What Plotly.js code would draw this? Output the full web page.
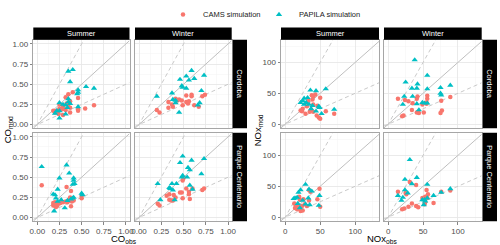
<!DOCTYPE html>
<html><head><meta charset="utf-8">
<script src="https://cdn.plot.ly/plotly-3.0.1.min.js"></script>
<style>html,body{margin:0;padding:0;background:#fff;}#chart{width:500px;height:245px;}</style>
</head><body><div id="chart"></div>
<script>
// ---------- DATA ----------
const seriesNames = ["CAMS simulation", "PAPILA simulation"];
const seasons = ["Summer", "Winter"];
const sites = ["Cordoba", "Parque Centenario"];

// CO, Summer, Cordoba
const coSumCorCamsX = [0.35,0.40,0.32,0.46,0.25,0.37,0.29,0.35,0.37,0.32,0.25,0.22,0.18,0.24,0.29,0.46,0.46,0.54,0.64,0.37,0.30,0.33,0.28,0.20];
const coSumCorCamsY = [0.375,0.40,0.34,0.33,0.25,0.29,0.23,0.25,0.21,0.18,0.20,0.17,0.17,0.13,0.12,0.19,0.17,0.20,0.24,0.15,0.20,0.26,0.19,0.15];
const coSumCorPapX = [0.35,0.40,0.37,0.55,0.64,0.46,0.46,0.45,0.35,0.35,0.37,0.25,0.29,0.32,0.34,0.46,0.22,0.25,0.32,0.25,0.20];
const coSumCorPapY = [0.66,0.68,0.53,0.47,0.45,0.43,0.40,0.38,0.32,0.28,0.26,0.27,0.25,0.24,0.21,0.22,0.17,0.17,0.13,0.08,0.14];
// CO, Winter, Cordoba
const coWinCorCamsX = [0.20,0.23,0.33,0.33,0.38,0.41,0.43,0.45,0.48,0.49,0.53,0.53,0.56,0.59,0.59,0.62,0.67,0.71,0.74,0.55,0.37];
const coWinCorCamsY = [0.18,0.15,0.28,0.21,0.22,0.32,0.30,0.31,0.30,0.24,0.36,0.28,0.29,0.37,0.35,0.24,0.22,0.35,0.37,0.26,0.25];
const coWinCorPapX = [0.20,0.46,0.59,0.53,0.56,0.62,0.73,0.48,0.49,0.53,0.70,0.37,0.38,0.41,0.41,0.68,0.66,0.45];
const coWinCorPapY = [0.35,0.56,0.67,0.60,0.55,0.57,0.61,0.48,0.46,0.45,0.42,0.39,0.31,0.30,0.27,0.27,0.24,0.15];
// CO, Summer, Parque Centenario
const coSumPcCamsX = [0.05,0.33,0.38,0.37,0.38,0.18,0.19,0.20,0.21,0.22,0.18,0.24,0.29,0.26,0.32,0.34,0.36,0.39,0.40,0.41,0.50,0.50,0.37,0.20,0.21];
const coSumPcCamsY = [0.40,0.38,0.33,0.22,0.14,0.15,0.17,0.19,0.16,0.14,0.18,0.17,0.19,0.18,0.20,0.19,0.21,0.20,0.23,0.21,0.27,0.24,0.25,0.15,0.13];
const coSumPcPapX = [0.05,0.33,0.36,0.25,0.41,0.41,0.40,0.42,0.23,0.18,0.20,0.21,0.23,0.19,0.31,0.34,0.40,0.41,0.50,0.51,0.27,0.38];
const coSumPcPapY = [0.63,0.65,0.55,0.49,0.49,0.46,0.41,0.42,0.35,0.29,0.28,0.24,0.20,0.08,0.12,0.21,0.24,0.25,0.30,0.28,0.22,0.23];
// CO, Winter, Parque Centenario
const coWinPcCamsX = [0.21,0.23,0.34,0.36,0.38,0.34,0.39,0.46,0.48,0.49,0.49,0.50,0.53,0.56,0.56,0.57,0.60,0.71,0.73,0.41,0.31];
const coWinPcCamsY = [0.17,0.15,0.22,0.21,0.21,0.29,0.28,0.31,0.31,0.24,0.46,0.49,0.36,0.32,0.29,0.23,0.36,0.34,0.36,0.25,0.27];
const coWinPcPapX = [0.21,0.24,0.49,0.46,0.59,0.73,0.55,0.57,0.70,0.49,0.54,0.37,0.42,0.34,0.35,0.38,0.57,0.60,0.40,0.48];
const coWinPcPapY = [0.42,0.22,0.76,0.68,0.71,0.73,0.62,0.59,0.54,0.52,0.50,0.42,0.42,0.37,0.36,0.34,0.40,0.35,0.22,0.50];

// NOx, Summer, Cordoba
const noxSumCorCamsX = [38,40,43,50,39,33,40,31,25,24,29,40,45,48,50,58,70,37,22,35,46];
const noxSumCorCamsY = [47,45,48,43,40,38,32,29,25,21,17,20,14,11,9,21,17,24,22,20,30];
const noxSumCorPapX = [58,36,44,27,32,22,30,34,39,48,49,44,70,52,27,37,25];
const noxSumCorPapY = [57,55,54,42,43,35,35,32,30,29,27,21,24,17,32,25,38];
// NOx, Winter, Cordoba
const noxWinCorCamsX = [14,24,42,41,56,56,55,55,49,35,76,89,34,41,44,51,20,22,77,75,29];
const noxWinCorCamsY = [41,39,45,41,46,41,35,33,32,34,38,44,23,19,18,19,13,14,22,18,37];
const noxWinCorPapX = [38,56,25,42,34,41,56,75,89,75,76,35,23,49,52,56,41,21,44];
const noxWinCorPapY = [104,79,68,65,58,58,57,59,63,50,47,45,45,35,34,34,33,32,23];
// NOx, Summer, Parque Centenario
const noxSumPcCamsX = [34,36,49,20,21,26,28,14,17,22,25,31,34,46,50,13,19,24,15];
const noxSumPcCamsY = [44,41,46,33,28,29,21,15,13,10,11,18,27,29,17,22,17,18,20];
const noxSumPcPapX = [29,22,19,34,38,49,14,17,33,29,48,21,25,18,35,12];
const noxSumPcPapY = [53,44,40,45,42,35,31,32,31,21,19,15,27,22,20,30];
// NOx, Winter, Parque Centenario
const noxWinPcCamsX = [31,40,14,25,26,55,57,56,49,53,76,89,65,34,40,43,20,23,29,52,53];
const noxWinPcCamsY = [57,52,41,39,37,44,37,31,31,33,41,43,23,22,18,16,13,14,17,21,24];
const noxWinPcPapX = [31,24,41,34,56,24,28,21,14,19,65,76,89,49,52,56,53,51];
const noxWinPcPapY = [93,61,64,54,53,44,39,32,35,27,35,40,46,28,28,31,26,20];

const refSlopes = [1, 2, 0.5];
const coTicks = [0, 0.25, 0.5, 0.75, 1];
const coTickText = ["0.00", "0.25", "0.50", "0.75", "1.00"];
const noxTicks = [0, 50, 100];
const noxTickText = ["0", "50", "100"];

// ---------- LAYOUT HELPERS ----------
const W = 500, H = 245;
const px = v => v / W;
const py = v => (H - v) / H;
const coRange = [-0.045, 1.04];
const coYRange = [-0.045, 1.05];
const noxRange = [-6, 134];
const noxYRange = [-6.5, 136.5];

const colX = { coS: [33.3, 129.5], coW: [135, 231.7], noxS: [281, 379], noxW: [384, 481.7] };
const rowY = { top: [33.8, 124.8], bot: [129.5, 220.5] };

const panels = [
  {col:'coS', row:'top', kind:'co', cams:[coSumCorCamsX, coSumCorCamsY], pap:[coSumCorPapX, coSumCorPapY], left:true, bottom:false},
  {col:'coW', row:'top', kind:'co', cams:[coWinCorCamsX, coWinCorCamsY], pap:[coWinCorPapX, coWinCorPapY], left:false, bottom:false},
  {col:'noxS', row:'top', kind:'nox', cams:[noxSumCorCamsX, noxSumCorCamsY], pap:[noxSumCorPapX, noxSumCorPapY], left:true, bottom:false},
  {col:'noxW', row:'top', kind:'nox', cams:[noxWinCorCamsX, noxWinCorCamsY], pap:[noxWinCorPapX, noxWinCorPapY], left:false, bottom:false},
  {col:'coS', row:'bot', kind:'co', cams:[coSumPcCamsX, coSumPcCamsY], pap:[coSumPcPapX, coSumPcPapY], left:true, bottom:true},
  {col:'coW', row:'bot', kind:'co', cams:[coWinPcCamsX, coWinPcCamsY], pap:[coWinPcPapX, coWinPcPapY], left:false, bottom:true},
  {col:'noxS', row:'bot', kind:'nox', cams:[noxSumPcCamsX, noxSumPcCamsY], pap:[noxSumPcPapX, noxSumPcPapY], left:true, bottom:true},
  {col:'noxW', row:'bot', kind:'nox', cams:[noxWinPcCamsX, noxWinPcCamsY], pap:[noxWinPcPapX, noxWinPcPapY], left:false, bottom:true},
];

const FONT = "Liberation Sans, Arial, sans-serif";
const traces = [];
const layout = {
  width: W, height: H, autosize: false,
  margin: {l:0, r:0, t:0, b:0},
  paper_bgcolor: '#fff', plot_bgcolor: '#fff',
  font: {family: FONT, size: 8, color: '#4d4d4d'},
  shapes: [], annotations: [],
  legend: {orientation:'h', x: px(163), xanchor:'left', y: py(7.5), yanchor:'middle',
           font:{size:7.5, color:'#1a1a1a'}, bgcolor:'rgba(0,0,0,0)', itemwidth:30, tracegroupgap:0},
  legend2: {orientation:'h', x: px(259), xanchor:'left', y: py(7.5), yanchor:'middle',
           font:{size:7.5, color:'#1a1a1a'}, bgcolor:'rgba(0,0,0,0)', itemwidth:30, tracegroupgap:0},
  showlegend: true
};

panels.forEach((p, i) => {
  const n = i + 1;
  const xa = 'xaxis' + (n === 1 ? '' : n), ya = 'yaxis' + (n === 1 ? '' : n);
  const xr = 'x' + (n === 1 ? '' : n), yr = 'y' + (n === 1 ? '' : n);
  const isCo = p.kind === 'co';
  const xrange = isCo ? coRange : noxRange;
  const yrange = isCo ? coYRange : noxYRange;
  const common = {
    showgrid: true, gridcolor: '#e6e6e6', gridwidth: 0.8, zeroline: false,
    showline: true, mirror: true, linecolor: '#a6a6a6', linewidth: 1,
    tickfont: {family: FONT, size: 8, color: '#4d4d4d'},
    minor: {dtick: isCo ? 0.125 : 25, tick0: 0, showgrid: true, gridcolor: '#f3f3f3', gridwidth: 0.5, ticks: ''},
    tickmode: 'array', tickvals: isCo ? coTicks : noxTicks, ticktext: isCo ? coTickText : noxTickText,
    fixedrange: true
  };
  layout[xa] = Object.assign({}, common, {
    domain: [px(colX[p.col][0]), px(colX[p.col][1])], range: xrange, anchor: yr,
    showticklabels: p.bottom, ticks: p.bottom ? 'outside' : '', ticklen: 2.5, tickwidth: 0.6, tickcolor: '#333'
  });
  layout[ya] = Object.assign({}, common, {
    domain: [py(rowY[p.row][1]), py(rowY[p.row][0])], range: yrange, anchor: xr,
    showticklabels: p.left, ticks: p.left ? 'outside' : '', ticklen: 2.5, tickwidth: 0.6, tickcolor: '#333'
  });
  refSlopes.forEach(s => {
    traces.push({type:'scatter', mode:'lines', xaxis:xr, yaxis:yr, hoverinfo:'skip', showlegend:false,
      x:[xrange[0], xrange[1]], y:[s*xrange[0], s*xrange[1]],
      line:{color: s === 1 ? '#bfbfbf' : '#c9c9c9', width: 1, dash: s === 1 ? 'solid' : '4px,3px'}});
  });
  traces.push({type:'scatter', mode:'markers', xaxis:xr, yaxis:yr, name: seriesNames[0],
    x: p.cams[0], y: p.cams[1], showlegend: n === 1, legend: 'legend',
    marker:{color:'#F8766D', size:4.5, symbol:'circle'}});
  traces.push({type:'scatter', mode:'markers', xaxis:xr, yaxis:yr, name: seriesNames[1],
    x: p.pap[0], y: p.pap[1], showlegend: n === 1, legend: 'legend2',
    marker:{color:'#00BFC4', size:5.5, symbol:'triangle-up'}});
});

function rect(x0, x1, y0, y1) {
  layout.shapes.push({type:'rect', xref:'paper', yref:'paper', x0:px(x0), x1:px(x1), y0:py(y1), y1:py(y0),
    fillcolor:'#000', line:{width:0}, layer:'above'});
}
function label(text, x, y, angle, size, color) {
  layout.annotations.push({text, x:px(x), y:py(y), xref:'paper', yref:'paper', showarrow:false,
    textangle: angle, font:{family:FONT, size, color}, xanchor:'center', yanchor:'middle', borderpad:0});
}
[['coS', seasons[0]], ['coW', seasons[1]], ['noxS', seasons[0]], ['noxW', seasons[1]]].forEach(([c, t]) => {
  rect(colX[c][0], colX[c][1], 21, rowY.top[0]);
  label(t, (colX[c][0] + colX[c][1]) / 2, 27.4, 0, 7.5, '#fff');
});
[[232.7, 247], [482.7, 497]].forEach(([a, b]) => {
  rect(a, b, rowY.top[0], rowY.top[1]);
  rect(a, b, rowY.bot[0], rowY.bot[1]);
  label(sites[0], (a + b) / 2, (rowY.top[0] + rowY.top[1]) / 2, 90, 7.5, '#fff');
  label(sites[1], (a + b) / 2, (rowY.bot[0] + rowY.bot[1]) / 2, 90, 7.5, '#fff');
});
label('CO<sub>obs</sub>', 124, 239, 0, 9.5, '#000');
label('NOx<sub>obs</sub>', 382, 239, 0, 9.5, '#000');
label('CO<sub>mod</sub>', 8, 127, -90, 9.5, '#000');
label('NOx<sub>mod</sub>', 258, 127, -90, 9.5, '#000');

Plotly.newPlot('chart', traces, layout, {staticPlot: true, displayModeBar: false});
</script></body></html>
